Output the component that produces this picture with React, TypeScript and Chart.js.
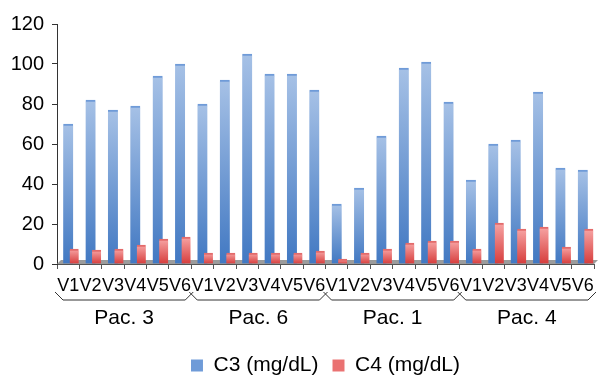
import React, { useEffect, useRef } from "react";
import { Chart, registerables } from "chart.js";

Chart.register(...registerables);

const visits = ["V1", "V2", "V3", "V4", "V5", "V6"];
const patients = ["Pac. 3", "Pac. 6", "Pac. 1", "Pac. 4"];
const categories = patients.flatMap((p) => visits.map((v) => `${p}|${v}`));

const c3Values = [
  70, 82, 77, 79, 94, 100,
  80, 92, 105, 95, 95, 87,
  30, 38, 64, 98, 101, 81,
  42, 60, 62, 86, 48, 47,
];
const c4Values = [
  7.5, 7, 7.5, 9.5, 12.5, 13.5,
  5.5, 5.5, 5.5, 5.5, 5.5, 6.5,
  2.5, 5.5, 7.5, 10.5, 11.5, 11.5,
  7.5, 20.5, 17.5, 18.5, 8.5, 17.5,
];
const yTicks = [0, 20, 40, 60, 80, 100, 120];
const seriesNames = ["C3 (mg/dL)", "C4 (mg/dL)"];

const FONT = "'Liberation Sans', Arial, sans-serif";

function barGradient(ctx: any, top: string, bottom: string) {
  const chart = ctx.chart;
  const y = chart.scales && chart.scales.y;
  if (!chart.chartArea || !y || ctx.raw == null) return bottom;
  const yt = y.getPixelForValue(ctx.raw);
  const yb = y.getPixelForValue(0);
  const g = chart.ctx.createLinearGradient(0, yt, 0, Math.max(yb, yt + 1));
  g.addColorStop(0, top);
  g.addColorStop(1, bottom);
  return g;
}

const decorPlugin = {
  id: "decor",
  beforeDatasetsDraw(chart: any) {
    const { ctx, chartArea } = chart;
    const yb = chart.scales.y.getPixelForValue(0);
    ctx.save();
    ctx.fillStyle = "#9c9c9c";
    ctx.beginPath();
    ctx.moveTo(chartArea.left, yb);
    ctx.lineTo(chartArea.left + 4, yb - 4);
    ctx.lineTo(chartArea.right + 4, yb - 4);
    ctx.lineTo(chartArea.right, yb);
    ctx.closePath();
    ctx.fill();
    ctx.restore();
  },
  beforeDatasetDraw(chart: any, args: any) {
    if (args.index === 1) {
      chart.ctx.save();
      chart.ctx.translate(6, 0);
    }
  },
  afterDatasetDraw(chart: any, args: any) {
    if (args.index === 1) chart.ctx.restore();
  },
  afterDraw(chart: any) {
    const { ctx } = chart;
    const x = chart.scales.x;
    const n = categories.length;
    const w = (x.right - x.left) / n;
    const yTop = x.bottom;
    const yLow = yTop + 8;
    ctx.save();
    ctx.strokeStyle = "#333";
    ctx.lineWidth = 1;
    ctx.beginPath();
    for (let g = 0; g < patients.length; g++) {
      const L = x.getPixelForValue(g * visits.length) - w / 2;
      const R = x.getPixelForValue((g + 1) * visits.length - 1) + w / 2;
      ctx.moveTo(L - 2, yTop);
      ctx.lineTo(L + 6, yLow);
      ctx.lineTo(R - 6, yLow);
      ctx.lineTo(R + 2, yTop);
    }
    ctx.stroke();
    ctx.restore();
  },
};

export default function App() {
  const ref = useRef<HTMLCanvasElement>(null);
  useEffect(() => {
    if (!ref.current) return;
    const chart = new Chart(ref.current, {
      type: "bar",
      data: {
        labels: categories,
        datasets: [
          {
            label: seriesNames[0],
            data: c3Values,
            backgroundColor: (c: any) => barGradient(c, "#a6c1e6", "#4178c2"),
            borderColor: "#6f9bd8",
            borderWidth: { top: 2, left: 0, right: 0, bottom: 0 },
            borderSkipped: "bottom",
            barThickness: 10,
            grouped: false,
            order: 1,
          },
          {
            label: seriesNames[1],
            data: c4Values,
            backgroundColor: (c: any) => barGradient(c, "#f7a4a4", "#d63c3b"),
            borderColor: "#e36b6b",
            borderWidth: { top: 2, left: 0, right: 0, bottom: 0 },
            borderSkipped: "bottom",
            barThickness: 9,
            grouped: false,
            order: 0,
          },
        ] as any,
      },
      options: {
        animation: false,
        responsive: false,
        maintainAspectRatio: false,
        layout: { padding: { top: 24, right: 6, left: 0, bottom: -11 } },
        plugins: {
          tooltip: { enabled: false },
          legend: {
            position: "bottom",
            fullSize: false,
            labels: {
              boxWidth: 12,
              boxHeight: 12,
              padding: 14,
              color: "#000",
              font: { family: FONT, size: 21 },
              generateLabels: () =>
                seriesNames.map((t, i) => ({
                  text: t,
                  fillStyle: i === 0 ? "#6f9bd8" : "#ea7272",
                  strokeStyle: "rgba(0,0,0,0)",
                  lineWidth: 0,
                  datasetIndex: i,
                  hidden: false,
                })),
            },
          },
        },
        scales: {
          x: {
            type: "category",
            offset: true,
            afterFit: (s: any) => {
              s.height = 28;
            },
            grid: {
              drawOnChartArea: false,
              offset: true,
              tickLength: 5,
              color: "#555",
            },
            border: { color: "#555", width: 1 },
            ticks: {
              autoSkip: false,
              maxRotation: 0,
              minRotation: 0,
              padding: 6,
              color: "#000",
              font: { family: FONT, size: 18 },
              callback: (_v: any, i: number) => categories[i].split("|")[1],
            },
          },
          x2: {
            type: "category",
            position: "bottom",
            labels: patients,
            offset: true,
            afterFit: (s: any) => {
              s.height = 49;
            },
            grid: { display: false },
            border: { display: false },
            ticks: {
              autoSkip: false,
              maxRotation: 0,
              padding: 6,
              color: "#000",
              font: { family: FONT, size: 21 },
            },
          },
          y: {
            min: 0,
            max: 120,
            afterFit: (s: any) => {
              s.width = 57;
            },
            afterBuildTicks: (s: any) => {
              s.ticks = yTicks.map((v) => ({ value: v }));
            },
            grid: {
              drawOnChartArea: false,
              tickLength: 5,
              color: "#333",
            },
            border: { color: "#333", width: 1 },
            ticks: {
              padding: 8,
              color: "#000",
              font: { family: FONT, size: 20 },
            },
          },
        },
      } as any,
      plugins: [decorPlugin],
    });
    return () => chart.destroy();
  }, []);
  return (
    <div style={{ position: "fixed", left: 0, top: 0, width: 600, height: 375, background: "#fff" }}>
      <canvas ref={ref} width={600} height={375} />
    </div>
  );
}
